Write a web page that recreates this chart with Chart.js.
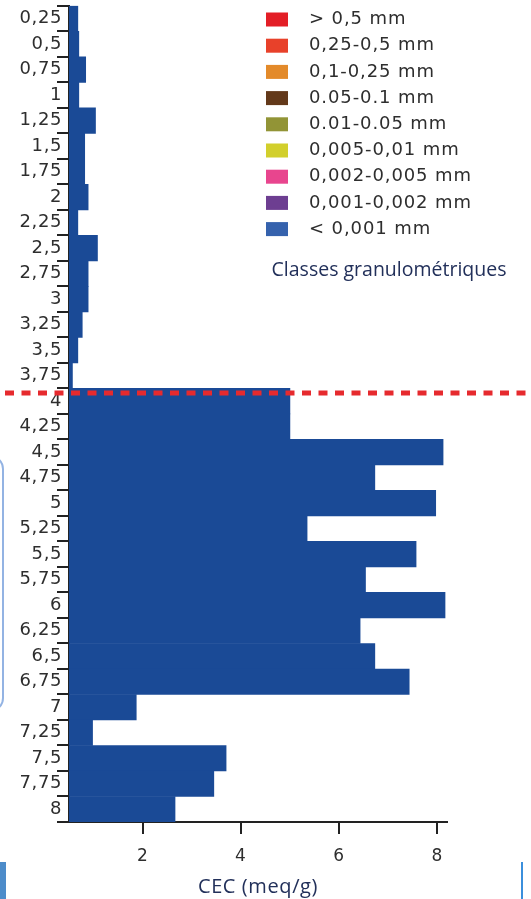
<!DOCTYPE html>
<html>
<head>
<meta charset="utf-8">
<script src="https://cdn.jsdelivr.net/npm/chart.js@4/dist/chart.umd.min.js"></script>
<style>
  html, body { margin: 0; padding: 0; background: #fff; }
  #wrap { position: relative; width: 531px; height: 899px; overflow: hidden; }
  canvas { display: block; }
  /* edges of the neighbouring panels */
  .edge-l { position: absolute; left: -40px; top: 455px; width: 44px; height: 257px;
            border: 2px solid #93b3e3; border-radius: 14px; box-sizing: border-box; }
  .edge-bl { position: absolute; left: 0; top: 862px; width: 6px; height: 37px; background: #4d8cca; }
  .edge-br { position: absolute; left: 521px; top: 862px; width: 2px; height: 37px; background: #3b8fdc; }
</style>
</head>
<body>
<div id="wrap">
  <canvas id="chart" width="531" height="899"></canvas>
  <div class="edge-l"></div>
  <div class="edge-bl"></div>
  <div class="edge-br"></div>
</div>
<script>
// Depth classes (axis labels)
const depthLabels = ['0,25','0,5','0,75','1','1,25','1,5','1,75','2','2,25','2,5','2,75','3','3,25','3,5','3,75',
                     '4','4,25','4,5','4,75','5','5,25','5,5','5,75','6','6,25','6,5','6,75','7','7,25','7,5','7,75','8'];
// CEC of the < 0,001 mm fraction (meq/g)
const cecValues = [0.68, 0.70, 0.84, 0.70, 1.04, 0.82, 0.82, 0.89, 0.68, 1.08, 0.89, 0.89, 0.77, 0.68, 0.57,
                   5.0, 5.0, 8.12, 6.73, 7.97, 5.35, 7.57, 6.54, 8.16, 6.43, 6.73, 7.43, 1.87, 0.98, 3.70, 3.45, 2.66];
const cecTicks = [2, 4, 6, 8];
// Grain-size classes
const classLabels = ['> 0,5 mm', '0,25-0,5 mm', '0,1-0,25 mm', '0.05-0.1 mm', '0.01-0.05 mm',
                     '0,005-0,01 mm', '0,002-0,005 mm', '0,001-0,002 mm', '< 0,001 mm'];
const classColors = ['#e31e26', '#e8412a', '#e38a2a', '#63391a', '#929436',
                     '#d2cf2c', '#e8458e', '#6d3e91', '#3562ad'];
const classTitle = 'Classes granulométriques';
// Depth of the dashed limit line
const limitDepth = 3.92;

const barColor = '#1a4a96';
const axisColor = '#222';
const labelColor = '#2e2e2e';
const titleColor = '#22305a';
const labelFamily = '"DejaVu Sans", Verdana, sans-serif';

// slightly open tracking for all axis text
const tracking = {
  id: 'tracking',
  beforeDraw(chart) { chart.ctx.letterSpacing = '0.6px'; }
};

const limitLine = {
  id: 'limitLine',
  afterDatasetsDraw(chart) {
    const y = chart.scales.y.getPixelForValue(limitDepth / 0.25 - 1);
    const ctx = chart.ctx;
    ctx.save();
    ctx.strokeStyle = '#e62a2e';
    ctx.lineWidth = 5;
    ctx.setLineDash([9, 7.5]);
    ctx.beginPath();
    ctx.moveTo(5, y);
    ctx.lineTo(chart.width, y);
    ctx.stroke();
    ctx.restore();
  }
};

const classKey = {
  id: 'classKey',
  afterDraw(chart) {
    const ctx = chart.ctx;
    ctx.save();
    ctx.textBaseline = 'middle';
    ctx.textAlign = 'left';
    ctx.letterSpacing = '0.9px';
    classLabels.forEach((label, i) => {
      const cy = 19.5 + i * 26.2;
      ctx.fillStyle = classColors[i];
      ctx.fillRect(266, cy - 7, 22, 14);
      ctx.fillStyle = labelColor;
      ctx.font = '18px ' + labelFamily;
      ctx.fillText(label, 309, cy);
    });
    ctx.letterSpacing = '0px';
    ctx.fillStyle = titleColor;
    ctx.font = '19.5px "Open Sans"';
    ctx.textAlign = 'center';
    ctx.fillText(classTitle, 389, 270);
    ctx.restore();
  }
};

function draw() {
  new Chart(document.getElementById('chart'), {
    type: 'bar',
    data: {
      labels: depthLabels,
      datasets: [{
        label: '< 0,001 mm',
        data: cecValues,
        backgroundColor: barColor,
        borderWidth: 0,
        barPercentage: 1,
        categoryPercentage: 1
      }]
    },
    options: {
      indexAxis: 'y',
      responsive: false,
      animation: false,
      devicePixelRatio: 1,
      layout: { padding: { top: 5, right: 84, left: 0, bottom: 0 } },
      plugins: { legend: { display: false }, tooltip: { enabled: false } },
      scales: {
        x: {
          type: 'linear',
          min: 0.5,
          max: 8.2,
          afterBuildTicks: (scale) => { scale.ticks = cecTicks.map(v => ({ value: v })); },
          afterFit: (scale) => { scale.height = 77; },
          grid: { drawOnChartArea: false, drawTicks: true, tickLength: 12, color: axisColor, lineWidth: 2 },
          border: { display: true, color: axisColor, width: 2 },
          ticks: { color: labelColor, font: { family: labelFamily, size: 17 }, padding: 12, maxRotation: 0 },
          title: { display: true, text: 'CEC (meq/g)', color: titleColor,
                   font: { family: '"Open Sans"', size: 20 }, padding: { top: 0, bottom: 0 } }
        },
        y: {
          type: 'category',
          afterFit: (scale) => { scale.width = 69; },
          grid: { drawOnChartArea: false, drawTicks: true, tickLength: 12, color: axisColor, lineWidth: 2, offset: true },
          border: { display: true, color: axisColor, width: 2 },
          ticks: { color: labelColor, font: { family: labelFamily, size: 18 }, padding: -5, autoSkip: false }
        }
      }
    },
    plugins: [tracking, limitLine, classKey]
  });
}

Promise.all([
  document.fonts.load('18px "DejaVu Sans"'),
  document.fonts.load('19px "Open Sans"')
]).then(draw, draw);
</script>
</body>
</html>
